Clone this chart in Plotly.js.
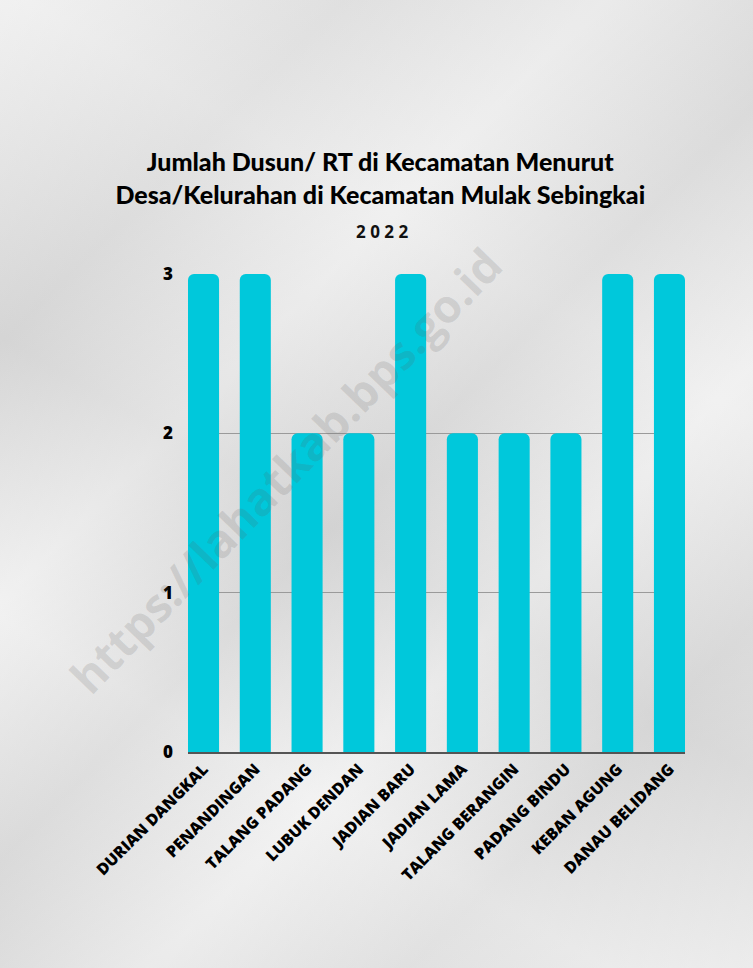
<!DOCTYPE html>
<html>
<head>
<meta charset="utf-8">
<script src="https://cdn.plot.ly/plotly-3.0.1.min.js"></script>
<style>
html,body{margin:0;padding:0;}
body{width:753px;height:968px;overflow:hidden;
background:
 linear-gradient(135deg, rgba(255,255,255,0.35) 0%, rgba(200,200,200,0.2) 20%, rgba(255,255,255,0.3) 35%, rgba(195,195,195,0.25) 50%, rgba(255,255,255,0.35) 65%, rgba(205,205,205,0.25) 80%, rgba(245,245,245,0.4) 100%),
 linear-gradient(30deg, #dcdcdc 0%, #ececec 25%, #d8d8d8 45%, #eaeaea 70%, #e0e0e0 100%);}
#chart{width:753px;height:968px;}
</style>
</head>
<body>
<div id="chart"></div>
<script>
var categories = ["DURIAN DANGKAL","PENANDINGAN","TALANG PADANG","LUBUK DENDAN","JADIAN BARU","JADIAN LAMA","TALANG BERANGIN","PADANG BINDU","KEBAN AGUNG","DANAU BELIDANG"];
var values = [3,3,2,2,3,2,2,2,3,3];
var titleText = "Jumlah Dusun/ RT di Kecamatan Menurut<br>Desa/Kelurahan di Kecamatan Mulak Sebingkai";
var subtitleText = "2 0 2 2";
var yTicks = [0,1,2,3];

var trace = {
  type: "bar",
  x: categories,
  y: values,
  marker: {color: "#00C8DB", cornerradius: 6},
  hoverinfo: "none"
};

var layout = {
  width: 753, height: 968,
  margin: {l: 188, r: 68, t: 274, b: 216},
  paper_bgcolor: "rgba(0,0,0,0)",
  plot_bgcolor: "rgba(0,0,0,0)",
  bargap: 0.4,
  showlegend: false,
  title: {
    text: titleText,
    font: {family: "Lato", size: 25, color: "#000", weight: 900},
    x: 0.505, xref: "container", xanchor: "center",
    y: 0.823, yref: "container", yanchor: "middle"
  },
  annotations: [
    {text: subtitleText, xref: "paper", yref: "paper", x: (382-188)/497, y: 1 + (274-231)/478, xanchor: "center", yanchor: "middle", showarrow: false,
     font: {family: "Open Sans", size: 17, color: "#111", weight: 700}},
    {text: "https://lahatkab.bps.go.id", xref: "paper", yref: "paper", x: (285-188)/497, y: (752-470)/478, xanchor: "center", yanchor: "middle", showarrow: false,
     textangle: -46, font: {family: "Open Sans", size: 46, color: "rgba(90,90,90,0.16)", weight: 700}}
  ],
  xaxis: {
    range: [-0.3, 9.3],
    tickangle: -45,
    tickfont: {family: "Open Sans", size: 16, color: "#000", weight: 800},
    showline: true, linecolor: "#555", linewidth: 1.5,
    showgrid: false, ticks: "", fixedrange: true
  },
  yaxis: {
    range: [0, 3],
    tickvals: yTicks,
    tickfont: {family: "Open Sans", size: 17, color: "#000", weight: 800},
    showgrid: true, gridcolor: "#9a9a9a", gridwidth: 1,
    zeroline: false, showline: false, ticks: "",
    ticklabelstandoff: 14, fixedrange: true
  }
};

Plotly.newPlot("chart", [trace], layout, {displayModeBar: false, staticPlot: true});
</script>
</body>
</html>
